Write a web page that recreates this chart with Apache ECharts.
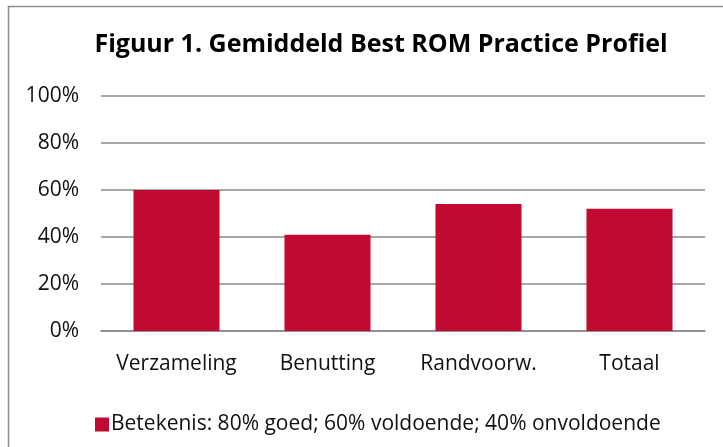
<!DOCTYPE html>
<html>
<head>
<meta charset="utf-8">
<script src="https://cdn.jsdelivr.net/npm/echarts@6/dist/echarts.min.js"></script>
<style>
html,body{margin:0;padding:0;background:#fff;}
#c{width:723px;height:447px;}
</style>
</head>
<body>
<div id="c"></div>
<script>
const titleText = 'Figuur 1. Gemiddeld Best ROM Practice Profiel';
const categories = ['Verzameling', 'Benutting', 'Randvoorw.', 'Totaal'];
const values = [60, 41, 54, 52];
const yTicks = [0, 20, 40, 60, 80, 100];
const seriesName = 'Betekenis: 80% goed; 60% voldoende; 40% onvoldoende';

const FONT = 'Open Sans';
const chart = echarts.init(document.getElementById('c'), null, {renderer: 'canvas'});
chart.setOption({
  animation: false,
  backgroundColor: '#ffffff',
  graphic: [{
    type: 'rect',
    shape: {x: 8.5, y: 6.5, width: 760, height: 480},
    style: {fill: 'none', stroke: '#8c8c8c', lineWidth: 1.5},
    silent: true, z: -1
  }],
  title: {
    text: titleText,
    left: 376,
    top: 27,
    textAlign: 'center',
    textStyle: {fontFamily: FONT, fontWeight: 'bold', fontSize: 25, color: '#000'}
  },
  legend: {
    data: [seriesName],
    left: 90,
    top: 409,
    icon: 'rect',
    itemWidth: 14,
    itemHeight: 14,
    itemGap: 5,
    textStyle: {fontFamily: FONT, fontSize: 21, color: '#111', padding: [0, 0, 0, -3]}
  },
  grid: {left: 101, right: 18, top: 96, bottom: 116, containLabel: false},
  xAxis: {
    type: 'category',
    data: categories,
    axisLine: {show: true, lineStyle: {color: '#8a8a8a', width: 1.5}},
    axisTick: {show: false},
    axisLabel: {fontFamily: FONT, fontSize: 21, color: '#111', margin: 23, interval: 0, hideOverlap: false}
  },
  yAxis: {
    type: 'value',
    min: yTicks[0],
    max: yTicks[yTicks.length - 1],
    interval: 20,
    axisLine: {show: false},
    axisTick: {show: false},
    splitLine: {lineStyle: {color: '#8a8a8a', width: 1.5}},
    axisLabel: {fontFamily: FONT, fontSize: 21, color: '#111', margin: 22, formatter: '{value}%'}
  },
  series: [{
    name: seriesName,
    type: 'bar',
    data: values,
    barWidth: '57%',
    itemStyle: {color: '#C10A32'}
  }]
});
</script>
</body>
</html>
